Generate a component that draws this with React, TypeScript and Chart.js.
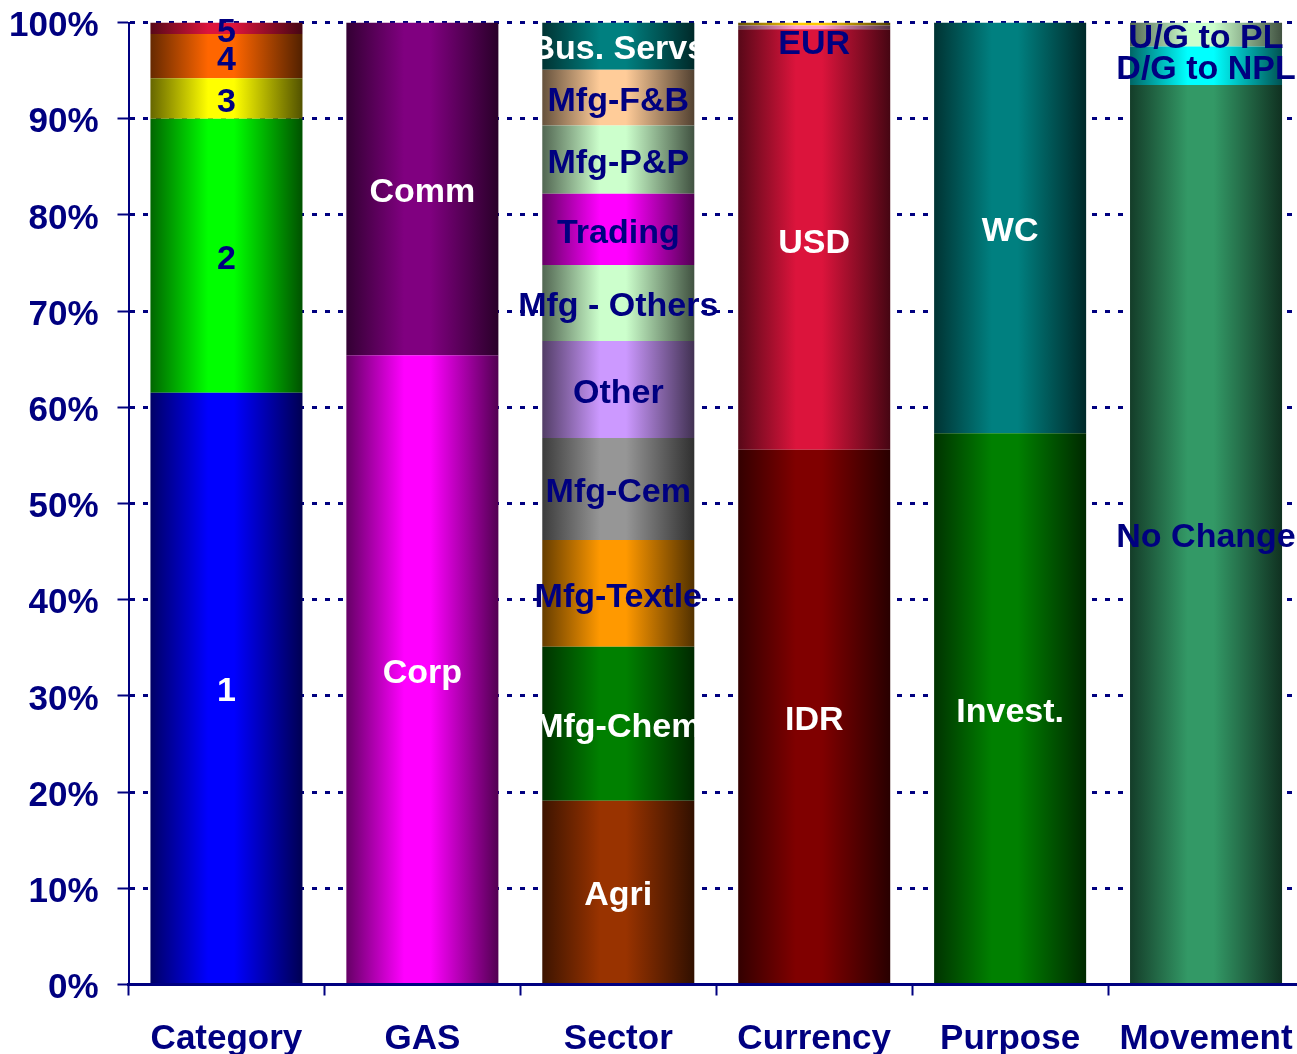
import React, { useEffect, useRef } from "react";
import { Chart, registerables } from "chart.js";

Chart.register(...registerables);

const xLabels = ["Category", "GAS", "Sector", "Currency", "Purpose", "Movement"];

const categorySegments = ["1", "2", "3", "4", "5"];
const categoryValues = [61.5, 28.5, 4.2, 4.6, 1.2];
const categoryColors = ["#0000FF", "#00FF00", "#FFFF00", "#FF6600", "#DC143C"];

const gasSegments = ["Corp", "Comm"];
const gasValues = [65.4, 34.6];
const gasColors = ["#FF00FF", "#800080"];

const sectorSegments = ["Agri", "Mfg-Chem", "Mfg-Textle", "Mfg-Cem", "Other", "Mfg - Others", "Trading", "Mfg-P&P", "Mfg-F&B", "Bus. Servs"];
const sectorValues = [19.1, 16.0, 11.1, 10.6, 10.1, 7.9, 7.4, 7.1, 5.8, 4.9];
const sectorColors = ["#993300", "#008000", "#FF9900", "#969696", "#CC99FF", "#CCFFCC", "#FF00FF", "#CCFFCC", "#FFCC99", "#008080"];

const currencySegments = ["IDR", "USD", "EUR", ""];
const currencyValues = [55.6, 43.7, 0.4, 0.3];
const currencyColors = ["#800000", "#DC143C", "#FF99CC", "#FFCC00"];

const purposeSegments = ["Invest.", "WC"];
const purposeValues = [57.3, 42.7];
const purposeColors = ["#008000", "#008080"];

const movementSegments = ["No Change", "D/G to NPL", "U/G to PL"];
const movementValues = [93.5, 4.0, 2.5];
const movementColors = ["#339966", "#00FFFF", "#CCFFCC"];

const yTicks = [0, 10, 20, 30, 40, 50, 60, 70, 80, 90, 100];

const whiteLabels = ["1", "Corp", "Comm", "Agri", "Mfg-Chem", "Bus. Servs", "IDR", "USD", "Invest.", "WC"];
const labelYOffset: Record<string, number> = { EUR: 13 };

const NAVY = "#000080";
const FONT = "'Liberation Sans', Arial, sans-serif";

const bars = [
  { labels: categorySegments, values: categoryValues, colors: categoryColors },
  { labels: gasSegments, values: gasValues, colors: gasColors },
  { labels: sectorSegments, values: sectorValues, colors: sectorColors },
  { labels: currencySegments, values: currencyValues, colors: currencyColors },
  { labels: purposeSegments, values: purposeValues, colors: purposeColors },
  { labels: movementSegments, values: movementValues, colors: movementColors },
];

const BAR_PCT = 0.776;

function shade(hex: string, f: number) {
  const n = parseInt(hex.slice(1), 16);
  const r = Math.round(((n >> 16) & 255) * f);
  const g = Math.round(((n >> 8) & 255) * f);
  const b = Math.round((n & 255) * f);
  return `rgb(${r},${g},${b})`;
}

const labelPlugin = {
  id: "segLabels",
  afterDatasetsDraw(chart: any) {
    const ctx = chart.ctx;
    ctx.save();
    ctx.font = `bold 34px ${FONT}`;
    ctx.textAlign = "center";
    ctx.textBaseline = "middle";
    chart.data.datasets.forEach((ds: any, di: number) => {
      const meta = chart.getDatasetMeta(di);
      meta.data.forEach((el: any, j: number) => {
        const lbl = bars[j].labels[di];
        if (!lbl || !ds.data[j]) return;
        const y = (el.y + el.base) / 2 + (labelYOffset[lbl] || 0);
        ctx.fillStyle = whiteLabels.includes(lbl) ? "#FFFFFF" : NAVY;
        ctx.fillText(lbl, el.x, y + 4);
      });
    });
    ctx.restore();
  },
};

export default function App() {
  const ref = useRef<HTMLCanvasElement | null>(null);
  useEffect(() => {
    document.body.style.margin = "0";
    document.body.style.overflow = "hidden";
    const maxLayers = Math.max(...bars.map((b) => b.values.length));
    const datasets = [] as any[];
    for (let k = 0; k < maxLayers; k++) {
      datasets.push({
        data: bars.map((b) => b.values[k] ?? 0),
        borderWidth: 0,
        barPercentage: BAR_PCT,
        categoryPercentage: 1,
        backgroundColor: (c: any) => {
          const base = bars[c.dataIndex].colors[k] || "#000000";
          const chart = c.chart;
          const xs = chart.scales && chart.scales.x;
          if (!chart.chartArea || !xs) return base;
          const cx = xs.getPixelForValue(c.dataIndex);
          const w = ((xs.right - xs.left) / xLabels.length) * BAR_PCT;
          const g = chart.ctx.createLinearGradient(cx - w / 2, 0, cx + w / 2, 0);
          g.addColorStop(0, shade(base, 0.4));
          g.addColorStop(0.38, base);
          g.addColorStop(0.55, base);
          g.addColorStop(1, shade(base, 0.32));
          return g;
        },
      });
    }
    const chart = new Chart(ref.current as HTMLCanvasElement, {
      type: "bar",
      data: { labels: xLabels, datasets },
      plugins: [labelPlugin],
      options: {
        animation: false,
        responsive: false,
        maintainAspectRatio: false,
        layout: { padding: { top: 22.5, left: 0, right: 0, bottom: 0 } },
        plugins: { legend: { display: false }, tooltip: { enabled: false } },
        scales: {
          x: {
            stacked: true,
            afterFit: (s: any) => {
              s.height = 69.5;
              s.paddingLeft = 0;
              s.paddingRight = 0;
            },
            grid: {
              offset: true,
              drawOnChartArea: false,
              tickLength: 11,
              tickColor: NAVY,
              tickWidth: 2,
            },
            border: { color: NAVY, width: 3 },
            ticks: {
              color: NAVY,
              font: { family: FONT, size: 35, weight: "bold" },
              padding: 23,
              maxRotation: 0,
            },
          },
          y: {
            stacked: true,
            min: 0,
            max: 100,
            afterFit: (s: any) => {
              s.width = 128.5;
              s.paddingTop = 0;
              s.paddingBottom = 0;
            },
            afterBuildTicks: (s: any) => {
              s.ticks = yTicks.map((v) => ({ value: v }));
            },
            grid: {
              color: NAVY,
              lineWidth: 3,
              tickLength: 11,
              tickColor: NAVY,
              tickWidth: 2,
              tickBorderDash: [],
            },
            border: { color: NAVY, width: 2, dash: [5, 8] },
            ticks: {
              color: NAVY,
              font: { family: FONT, size: 35, weight: "bold" },
              padding: 19,
              labelOffset: 4,
              callback: (v: any) => v + "%",
            },
          },
        },
      },
    });
    return () => chart.destroy();
  }, []);
  return (
    <div style={{ width: 1304, height: 1054 }}>
      <canvas ref={ref} width={1304} height={1054} style={{ display: "block", width: 1304, height: 1054 }} />
    </div>
  );
}
